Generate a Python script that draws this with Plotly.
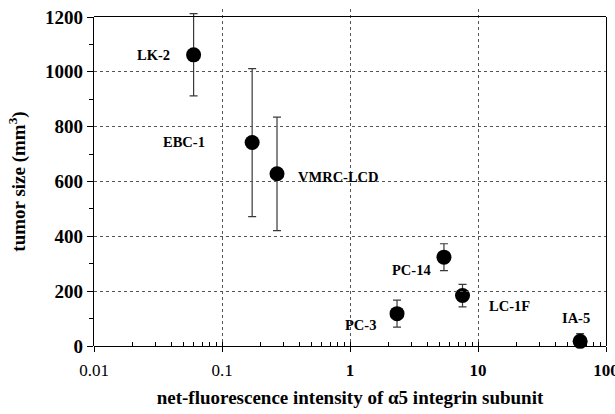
import math
import plotly.graph_objects as go

# data
cell_lines = ["LK-2", "EBC-1", "VMRC-LCD", "PC-14", "LC-1F", "PC-3", "IA-5"]
fluorescence = [0.060, 0.172, 0.269, 5.42, 7.57, 2.33, 62.8]
tumor_size = [1062, 742, 628, 324, 184, 118, 17]
tumor_err_plus = [150, 270, 207, 49, 41, 49, 28]
tumor_err_minus = [150, 270, 207, 49, 41, 49, 17]

x_tick_vals = [0.01, 0.1, 1, 10, 100]
x_tick_text = ["0.01", "0.1", "<b>1</b>", "<b>10</b>", "<b>100</b>"]
y_tick_vals = [0, 200, 400, 600, 800, 1000, 1200]
y_tick_text = ["0", "200", "400", "600", "800", "1000", "1200"]
Y_MAX = 1200

# label placement (pixel offsets from each point)
label_style = {
    "LK-2": dict(xanchor="right", xshift=-22, yshift=0),
    "EBC-1": dict(xanchor="right", xshift=-45, yshift=1),
    "VMRC-LCD": dict(xanchor="left", xshift=19, yshift=-3),
    "PC-14": dict(xanchor="right", xshift=-11, yshift=-13),
    "LC-1F": dict(xanchor="left", xshift=24, yshift=-10),
    "PC-3": dict(xanchor="right", xshift=-19, yshift=-11),
    "IA-5": dict(xanchor="center", xshift=-4, yshift=23),
}

FONT = "Liberation Serif, Times New Roman, serif"

W, H = 615, 414
M_L, M_R, M_T, M_B = 94, 9, 9, 68
PLOT_H_TARGET = 329  # height of framed plot area in px
full_h = H - M_T - M_B
frac = PLOT_H_TARGET / full_h

fig = go.Figure()
# data trace on an invisible, slightly taller axis so error caps can poke above the frame
fig.add_trace(go.Scatter(
    x=fluorescence, y=tumor_size, mode="markers", yaxis="y2",
    marker=dict(size=15, color="black"),
    error_y=dict(type="data", array=tumor_err_plus, arrayminus=tumor_err_minus,
                 symmetric=False, visible=True,
                 color="#3a3a3a", thickness=1.2, width=4),
    cliponaxis=False,
    showlegend=False,
))
# invisible trace on overlay axis for minor log ticks
fig.add_trace(go.Scatter(x=[0.01, 100], y=[0, 0], xaxis="x2", mode="markers",
                         marker=dict(opacity=0), showlegend=False, hoverinfo="skip"))

for name, xv, yv in zip(cell_lines, fluorescence, tumor_size):
    st = label_style[name]
    fig.add_annotation(x=math.log10(xv), y=yv, xref="x", yref="y", text=f"<b>{name}</b>",
                       showarrow=False, yanchor="middle",
                       font=dict(family=FONT, size=14.5, color="black"), **st)

fig.update_layout(
    width=W, height=H,
    margin=dict(l=M_L, r=M_R, t=M_T, b=M_B),
    paper_bgcolor="white", plot_bgcolor="rgba(0,0,0,0)",
    font=dict(family=FONT, color="black"),
    xaxis=dict(
        type="log", range=[-2, 2], automargin=False, anchor="y",
        tickvals=x_tick_vals, ticktext=x_tick_text,
        tickfont=dict(family=FONT, size=17, color="black"),
        ticks="outside", ticklen=5, tickcolor="black",
        ticklabelstandoff=3, ticklabeloverflow="allow",
        showline=True, linecolor="black", linewidth=1.2, mirror=True,
        showgrid=True, gridcolor="#555", griddash="dot", gridwidth=1,
        zeroline=False,
        title=dict(text="<b>net-fluorescence intensity of α5 integrin subunit</b>",
                   font=dict(family=FONT, size=19, color="black"), standoff=12),
    ),
    xaxis2=dict(
        type="log", range=[-2, 2], overlaying="x", side="bottom", automargin=False,
        dtick="D1", showticklabels=False, ticks="inside", ticklen=4,
        tickcolor="black", showgrid=False, showline=False, zeroline=False,
    ),
    yaxis=dict(
        range=[0, Y_MAX], domain=[0, frac], automargin=False,
        tickvals=y_tick_vals, ticktext=y_tick_text,
        tickfont=dict(family=FONT, size=19, color="black", weight="bold"),
        ticks="outside", ticklen=6, tickcolor="black", ticklabeloverflow="allow",
        minor=dict(dtick=100, ticks="outside", ticklen=4, tickcolor="black", showgrid=False),
        showline=True, linecolor="black", linewidth=1.2, mirror=True,
        showgrid=True, gridcolor="#555", griddash="dot", gridwidth=1,
        zeroline=False,
        title=dict(text="<b>tumor size (mm<sup>3</sup>)</b>",
                   font=dict(family=FONT, size=19, color="black"), standoff=14),
    ),
    yaxis2=dict(
        range=[0, Y_MAX / frac], domain=[0, 1], anchor="x", visible=False,
        showgrid=False, zeroline=False, automargin=False,
    ),
)

fig.write_html(
    "out.html",
    config={"displayModeBar": False},
    post_script="document.body.style.margin='0';document.body.style.overflow='hidden';",
)
